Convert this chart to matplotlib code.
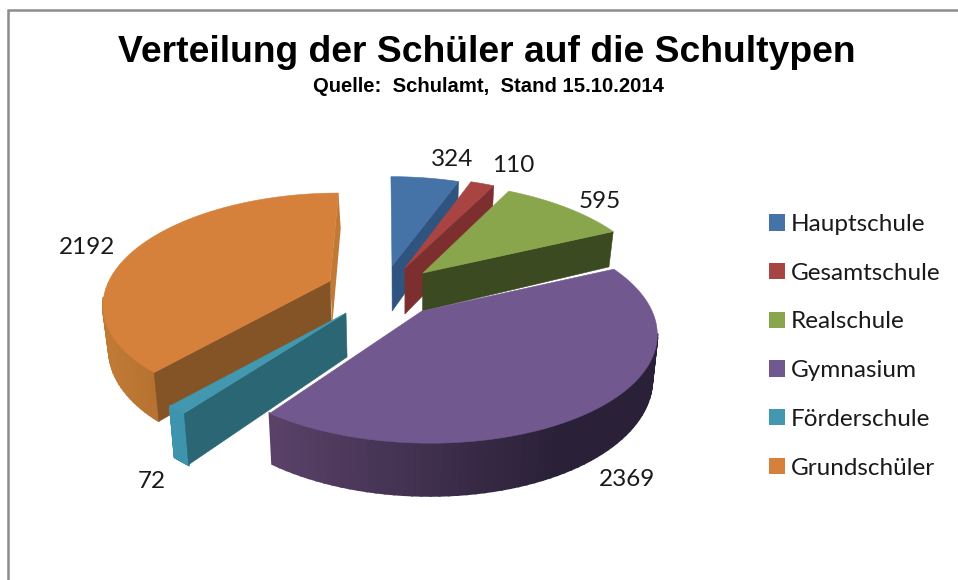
import numpy as np
import matplotlib
matplotlib.use("Agg")
import matplotlib.pyplot as plt
from matplotlib.patches import Patch

# Daten
schultypen = ["Hauptschule", "Gesamtschule", "Realschule", "Gymnasium", "Förderschule", "Grundschüler"]
schueler = [324, 110, 595, 2369, 72, 2192]

# Farben: Oberseite, Schnittfläche
farben = ["#4572a7", "#a84442", "#8aa64c", "#71588f", "#4198af", "#d5803b"]
schnitt = ["#2f5480", "#7c2f2e", "#3b4a20", "#000000", "#2b6674", "#855426"]
# Mantel: Farbe links (vorne) und rechts
mantel_links = ["#2f5480", "#7c2f2e", "#3b4a20", "#5b4269", "#3e93ad", "#c07a35"]
mantel_rechts = ["#2f5480", "#7c2f2e", "#3b4a20", "#2a2138", "#3e93ad", "#b36f30"]

# Lage der Stücke in Pixeln (Spitze der Oberseite), Höhe und Größe
spitzen = [(392, 266), (405, 268), (423, 273), (422, 311), (346, 313), (330, 281)]
hoehen = [45, 46, 38, 43, 44, 42]
skala = [0.96, 0.98, 0.975, 0.983, 0.96, 0.945]
label_pos = [(452, 159), (513, 166), (600, 201), (627, 480), (152, 482), (87, 248)]

rx, ry, k, cx, cx_unten = 234, 110, 0.182, 385, 400

# Reihenfolge beim Zeichnen, von hinten nach vorne
reihenfolge = [0, 1, 2, 5, 3, 4]

fig = plt.figure(figsize=(9.58, 5.8), dpi=100)
ax = fig.add_axes([0, 0, 1, 1])
ax.set_xlim(0, 958)
ax.set_ylim(580, 0)
ax.axis("off")

# Rahmen oben und links
ax.plot([8, 8, 958], [580, 10, 10], color="#8c8c8c", lw=1.8, solid_joinstyle="miter")


def punkt(i, winkel, r=1.0):
    # Punkt auf der Scheibe mit einfacher Perspektive, Winkel im Uhrzeigersinn ab oben
    ax0, ay0 = spitzen[i]
    u, v = r * np.sin(winkel), r * np.cos(winkel)
    w = 1 + k * v
    return ax0 + skala[i] * rx * u / w + (ax0 - cx) * (1 / w - 1), ay0 - skala[i] * ry * v / w, w


def unten(x, y, w, i):
    return cx_unten + (x - cx_unten) * 0.98, y + hoehen[i] / w


grenzen = np.cumsum([0] + schueler) / sum(schueler) * 2 * np.pi

for i in reihenfolge:
    t0, t1 = grenzen[i], grenzen[i + 1]
    ts = np.linspace(t0, t1, 80)
    oben = [punkt(i, t) for t in ts]
    x0, y0, _ = punkt(i, t0, 0)
    z = 2 + reihenfolge.index(i)

    # Mantel in kleinen Streifen, Farbverlauf von links nach rechts (nur vorne sichtbar)
    c_l = np.array(matplotlib.colors.to_rgb(mantel_links[i]))
    c_r = np.array(matplotlib.colors.to_rgb(mantel_rechts[i]))
    for t, a, b in zip(ts[:-1], oben[:-1], oben[1:]):
        if np.cos(t) > -k:
            continue
        xu_a, yu_a = unten(*a, i)
        xu_b, yu_b = unten(*b, i)
        f = np.clip((a[0] - 268) / (560 - 268), 0, 1) if i == 3 else np.clip((a[0] - 110) / 60, 0, 1)
        farbe = c_l * (1 - f) + c_r * f
        ax.fill([a[0], b[0], xu_b, xu_a], [a[1], b[1], yu_b, yu_a], color=farbe, lw=1.5, zorder=z)

    # Schnittflächen, nur die sichtbaren
    xu0, yu0 = unten(x0, y0, 1, i)
    if i == 5:
        # schmaler Streifen an der Oberkante des Grundschul-Stücks
        xe, ye, we = punkt(i, t1)
        xue, yue = unten(xe, ye, we, i)
        ax.fill([x0, xe, xue + 1, xu0 + 1], [y0, ye, yue, yu0], color=mantel_links[i], lw=0, zorder=z)
    if i in (0, 1, 2):
        xe, ye, we = oben[-1]
    elif i == 3:
        xe = None
    else:
        xe, ye, we = oben[0]
    if xe is not None:
        xue, yue = unten(xe, ye, we, i)
        ax.fill([x0, xe, xue, xu0], [y0, ye, yue, yu0], color=schnitt[i], lw=0.4, zorder=z)

    # Oberseite
    xs = [x0] + [p[0] for p in oben]
    ys = [y0] + [p[1] for p in oben]
    ax.fill(xs, ys, color=farben[i], lw=0.4, zorder=z)

# Werte an den Stücken
for wert, pos in zip(schueler, label_pos):
    ax.text(pos[0], pos[1], str(wert), family="Lato", fontsize=17.5, color="#1a1a1a",
            ha="center", va="center", zorder=20)

# Überschrift
ax.text(487, 52, "Verteilung der Schüler auf die Schultypen", family="Liberation Sans",
        fontweight="bold", fontsize=26.8, color="black", ha="center", va="center")
ax.text(488, 86, "Quelle:  Schulamt,  Stand 15.10.2014", family="Liberation Sans",
        fontweight="bold", fontsize=14.6, color="black", ha="center", va="center")

# Legende
griffe = [Patch(facecolor=f, edgecolor="none", label=s) for f, s in zip(farben, schultypen)]
ax.legend(handles=griffe, loc="upper left", bbox_to_anchor=(769, 214), bbox_transform=ax.transData,
          frameon=False, prop={"family": "Lato", "size": 17.5}, labelcolor="#1a1a1a", borderpad=0, borderaxespad=0,
          handlelength=0.66, handleheight=0.66, handletextpad=0.22, labelspacing=1.14)

fig.savefig("out.png", dpi=100, facecolor="white")
